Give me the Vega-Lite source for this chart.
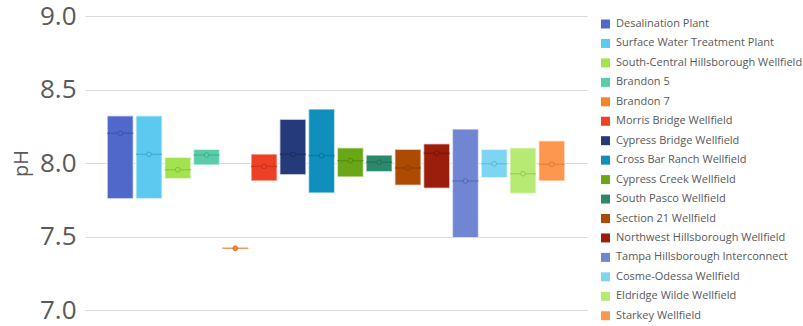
{
  "$schema": "https://vega.github.io/schema/vega-lite/v6.json",
  "autosize": {"type": "none"},
  "width": 502,
  "height": 294,
  "padding": {"left": 85, "top": 16, "right": 216, "bottom": 16},
  "background": "white",
  "config": {
    "view": {"stroke": null},
    "font": "Open Sans"
  },
  "data": {
    "values": [
      {"site": "Desalination Plant", "min": 7.757, "max": 8.322, "median": 8.202},
      {"site": "Surface Water Treatment Plant", "min": 7.757, "max": 8.322, "median": 8.059},
      {"site": "South-Central Hillsborough Wellfield", "min": 7.893, "max": 8.039, "median": 7.954},
      {"site": "Brandon 5", "min": 7.986, "max": 8.093, "median": 8.054},
      {"site": "Brandon 7", "min": 7.42, "max": 7.42, "median": 7.42},
      {"site": "Morris Bridge Wellfield", "min": 7.878, "max": 8.061, "median": 7.977},
      {"site": "Cypress Bridge Wellfield", "min": 7.92, "max": 8.297, "median": 8.059},
      {"site": "Cross Bar Ranch Wellfield", "min": 7.796, "max": 8.367, "median": 8.05},
      {"site": "Cypress Creek Wellfield", "min": 7.905, "max": 8.104, "median": 8.016},
      {"site": "South Pasco Wellfield", "min": 7.941, "max": 8.054, "median": 8.005},
      {"site": "Section 21 Wellfield", "min": 7.848, "max": 8.093, "median": 7.966},
      {"site": "Northwest Hillsborough Wellfield", "min": 7.828, "max": 8.131, "median": 8.066},
      {"site": "Tampa Hillsborough Interconnect", "min": 7.492, "max": 8.231, "median": 7.878},
      {"site": "Cosme-Odessa Wellfield", "min": 7.9, "max": 8.093, "median": 7.995},
      {"site": "Eldridge Wilde Wellfield", "min": 7.793, "max": 8.104, "median": 7.927},
      {"site": "Starkey Wellfield", "min": 7.878, "max": 8.152, "median": 7.991}
    ]
  },
  "encoding": {
    "x": {
      "field": "site",
      "type": "nominal",
      "sort": null,
      "scale": {"paddingInner": 0.09, "paddingOuter": 0.77},
      "axis": null
    }
  },
  "layer": [
    {
      "mark": {"type": "bar", "stroke": "white", "strokeOpacity": 0.6, "strokeWidth": 1.5},
      "encoding": {
        "y": {
          "field": "min",
          "type": "quantitative",
          "scale": {"domain": [7, 9], "nice": false, "zero": false},
          "axis": {
            "title": "pH",
            "titleFontSize": 20,
            "titleFontWeight": "normal",
            "titleColor": "#595959",
            "titlePadding": 8,
            "values": [7, 7.5, 8, 8.5, 9],
            "format": ".1f",
            "labelFontSize": 26,
            "labelColor": "#595959",
            "labelPadding": 9,
            "domain": false,
            "ticks": false,
            "gridColor": "#d9d9d9",
            "gridWidth": 1
          }
        },
        "y2": {"field": "max"},
        "color": {
          "field": "site",
          "type": "nominal",
          "sort": null,
          "scale": {
            "range": ["#4f68c9", "#5bcaf0", "#a3e34f", "#5bcca9", "#f4852b", "#ee4025", "#253a7b", "#108fbc", "#6aa717", "#2b8a6c", "#ad4b03", "#9b1d0c", "#7186d3", "#7dd5f2", "#b6ea73", "#fd9750"]
          },
          "legend": {
            "title": null,
            "orient": "none",
            "legendX": 515,
            "legendY": 2.5,
            "symbolType": "square",
            "symbolSize": 81,
            "symbolStrokeWidth": 0,
            "symbolOpacity": 1,
            "labelFontSize": 11,
            "labelColor": "#595959",
            "labelLimit": 300,
            "rowPadding": 7.45,
            "labelOffset": 5
          }
        }
      }
    },
    {
      "mark": {"type": "tick", "size": 26, "thickness": 1.5},
      "encoding": {
        "y": {"field": "median", "type": "quantitative"},
        "fill": {
          "field": "site",
          "type": "nominal",
          "sort": null,
          "scale": {
            "range": ["#3a52b0", "#3aa9d2", "#82c032", "#3fae8c", "#e0701a", "#c9301a", "#1a2b60", "#0b7399", "#538a0e", "#1f6e55", "#8a3b02", "#7a1508", "#5468b8", "#5cb8d8", "#96ca55", "#e07a35"]
          },
          "legend": null
        }
      }
    },
    {
      "mark": {"type": "point", "shape": "circle", "filled": true, "size": 22, "strokeWidth": 1, "opacity": 1},
      "encoding": {
        "y": {"field": "median", "type": "quantitative"},
        "color": {"field": "site", "type": "nominal", "sort": null},
        "stroke": {
          "field": "site",
          "type": "nominal",
          "sort": null,
          "scale": {
            "range": ["#3a52b0", "#3aa9d2", "#82c032", "#3fae8c", "#e0701a", "#c9301a", "#1a2b60", "#0b7399", "#538a0e", "#1f6e55", "#8a3b02", "#7a1508", "#5468b8", "#5cb8d8", "#96ca55", "#e07a35"]
          },
          "legend": null
        }
      }
    }
  ]
}
